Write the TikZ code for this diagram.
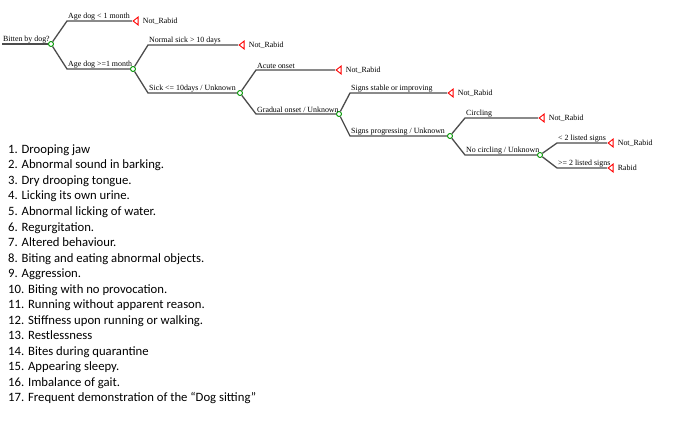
\documentclass[tikz,border=0pt]{standalone}
\usepackage{fontspec}
\setmainfont{Liberation Serif}
\newfontfamily\listfont{Carlito}
\usetikzlibrary{shapes.geometric,positioning}

\begin{document}
\begin{tikzpicture}[x=1pt, y=-1pt,
  every node/.style={font=\fontsize{7.9}{9}\selectfont},
  branch/.style={draw=black!70, line width=1.3pt},
  dec/.style={circle, draw=green!60!black, fill=white, line width=0.9pt,
    minimum size=5pt, inner sep=0pt},
  leaf/.style={isosceles triangle, isosceles triangle stretches,
    shape border rotate=180, draw=red, fill=white, line width=0.9pt,
    minimum width=8pt, minimum height=5pt, inner sep=0pt, anchor=apex},
  lbl/.style={anchor=south west, inner sep=1pt},
  res/.style={inner sep=0pt, right=4pt of #1}]
  \useasboundingbox (0,0) rectangle (700,430);

  % Root
  \coordinate (r) at (2,44);
  \node[dec] (d0) at (51,44) {};
  \node[lbl] at (r) {Bitten by dog?};

  % Age of dog
  \coordinate (a1) at (67,21);  \node[leaf] (l1) at (132,21) {};
  \coordinate (a2) at (67,69);  \node[dec] (d1) at (133,69) {};
  \node[lbl] at (a1) {Age dog < 1 month};
  \node[lbl] at (a2) {Age dog >=1 month};
  \node[res=l1] {Not\_Rabid};

  % Sickness
  \coordinate (a3) at (148,45); \node[leaf] (l2) at (238,45) {};
  \coordinate (a4) at (148,93); \node[dec] (d2) at (240,93) {};
  \node[lbl] at (a3) {Normal sick > 10 days};
  \node[lbl] at (a4) {Sick <= 10days / Unknown};
  \node[res=l2] {Not\_Rabid};

  % Onset
  \coordinate (a5) at (256,70);  \node[leaf] (l3) at (335,70) {};
  \coordinate (a6) at (256,114); \node[dec] (d3) at (339,114) {};
  \node[lbl] at (a5) {Acute onset};
  \node[lbl] at (a6) {Gradual onset / Unknown};
  \node[res=l3] {Not\_Rabid};

  % Signs
  \coordinate (a7) at (350,93);  \node[leaf] (l4) at (447,93) {};
  \coordinate (a8) at (350,136); \node[dec] (d4) at (450,136) {};
  \node[lbl] at (a7) {Signs stable or improving};
  \node[lbl] at (a8) {Signs progressing / Unknown};
  \node[res=l4] {Not\_Rabid};

  % Circling
  \coordinate (a9) at (465,118);  \node[leaf] (l5) at (538,118) {};
  \coordinate (a10) at (465,155); \node[dec] (d5) at (540,155) {};
  \node[lbl] at (a9) {Circling};
  \node[lbl] at (a10) {No circling / Unknown};
  \node[res=l5] {Not\_Rabid};

  % Listed signs
  \coordinate (a11) at (557,143); \node[leaf] (l6) at (607,143) {};
  \coordinate (a12) at (557,168); \node[leaf] (l7) at (607,168) {};
  \node[lbl] at (a11) {< 2 listed signs};
  \node[lbl] at (a12) {>= 2 listed signs};
  \node[res=l6] {Not\_Rabid};
  \node[res=l7] {Rabid};

  % Branches
  \draw[branch] (r) -- (d0);
  \draw[branch] (d0) -- (a1) -- (l1.apex);
  \draw[branch] (d0) -- (a2) -- (d1);
  \draw[branch] (d1) -- (a3) -- (l2.apex);
  \draw[branch] (d1) -- (a4) -- (d2);
  \draw[branch] (d2) -- (a5) -- (l3.apex);
  \draw[branch] (d2) -- (a6) -- (d3);
  \draw[branch] (d3) -- (a7) -- (l4.apex);
  \draw[branch] (d3) -- (a8) -- (d4);
  \draw[branch] (d4) -- (a9) -- (l5.apex);
  \draw[branch] (d4) -- (a10) -- (d5);
  \draw[branch] (d5) -- (a11) -- (l6.apex);
  \draw[branch] (d5) -- (a12) -- (l7.apex);

  % List of signs
  \foreach \t [count=\i] in {Drooping jaw, Abnormal sound in barking.,
      Dry drooping tongue., Licking its own urine., Abnormal licking of water.,
      Regurgitation., Altered behaviour., Biting and eating abnormal objects.,
      Aggression., Biting with no provocation., Running without apparent reason.,
      Stiffness upon running or walking., Restlessness, Bites during quarantine,
      Appearing sleepy., Imbalance of gait.,
      Frequent demonstration of the “Dog sitting”}
    \node[anchor=base west, inner sep=0pt, font=\listfont\fontsize{12.7}{15}\selectfont]
      (s\i) at (8,153.5+15.5*\i-15.5) {\i. \t};
\end{tikzpicture}
\end{document}
